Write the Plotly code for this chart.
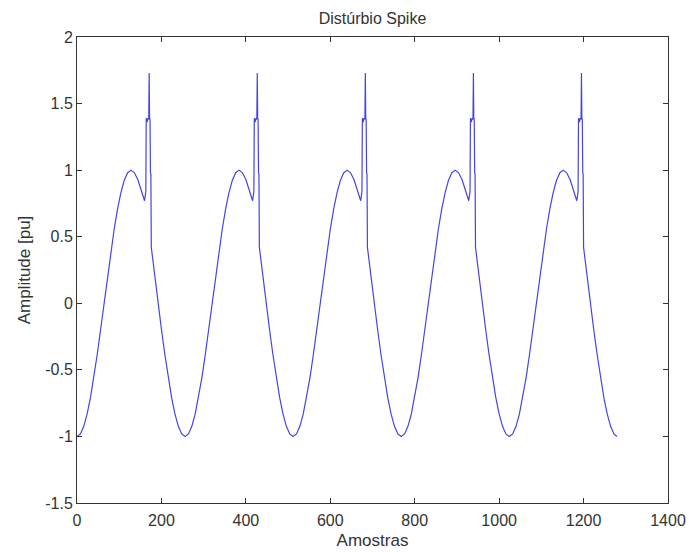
import plotly.graph_objects as go

# One cycle of the disturbed waveform (sample offset within cycle, amplitude in pu),
# read from the picture; the five cycles in the picture are identical.
cycle_offsets = [0, 8, 16, 24, 32, 40, 48, 56, 64, 72, 80, 88, 96, 104, 112, 120,
                 128, 136, 144, 152, 156, 160, 163, 164, 166, 168, 170, 171, 172,
                 173, 174, 175, 176, 184, 192, 200, 208, 216, 224, 232, 240, 248]
cycle_values = [-1.000, -0.981, -0.924, -0.831, -0.707, -0.556, -0.383, -0.195,
                0.000, 0.195, 0.383, 0.556, 0.707, 0.831, 0.924, 0.981,
                1.000, 0.980, 0.930, 0.850, 0.800, 0.770, 0.840, 1.390, 1.360,
                1.390, 1.380, 1.730, 1.390, 1.380, 0.980, 0.970, 0.420, 0.200,
                0.000, -0.195, -0.383, -0.556, -0.707, -0.831, -0.924, -0.981]
cycle_starts = [0, 256, 512, 768, 1024]
end_sample = 1279
end_value = -1.000

x_ticks = [0, 200, 400, 600, 800, 1000, 1200, 1400]
y_ticks = [-1.5, -1, -0.5, 0, 0.5, 1, 1.5, 2]
y_ticklabels = ["-1.5", "-1", "-0.5", "0", "0.5", "1", "1.5", "2"]

xs, ys = [], []
for s in cycle_starts:
    for o, v in zip(cycle_offsets, cycle_values):
        xs.append(s + o)
        ys.append(v)
xs.append(end_sample)
ys.append(end_value)

fig = go.Figure()
fig.add_trace(go.Scatter(x=xs, y=ys, mode="lines",
                         line=dict(color="#4444e6", width=1.2),
                         showlegend=False, hoverinfo="skip"))

axis_common = dict(showline=True, linecolor="#333333", linewidth=1, mirror="allticks",
                   ticks="inside", ticklen=5, tickcolor="#333333", showgrid=False,
                   zeroline=False, tickfont=dict(family="Liberation Sans", size=16, color="#333333"))

fig.update_xaxes(range=[0, 1400], tickvals=x_ticks, ticktext=[str(t) for t in x_ticks],
                 ticklabelstandoff=3,
                 title=dict(text="Amostras", font=dict(family="Liberation Sans", size=17, color="#333333"),
                            standoff=5),
                 **axis_common)
fig.update_yaxes(range=[-1.5, 2], tickvals=y_ticks, ticktext=y_ticklabels,
                 title=dict(text="Amplitude [pu]", font=dict(family="Liberation Sans", size=17, color="#333333"),
                            standoff=10),
                 **axis_common)

fig.update_layout(
    width=689, height=552,
    margin=dict(l=77, r=21, t=37, b=49, autoexpand=False),
    paper_bgcolor="white", plot_bgcolor="white",
    title=dict(text="Distúrbio Spike", x=0.5, xanchor="center", xref="paper",
               y=0.967, yanchor="middle",
               font=dict(family="Liberation Sans", size=16, color="#333333")),
)

fig.write_html("out.html")
